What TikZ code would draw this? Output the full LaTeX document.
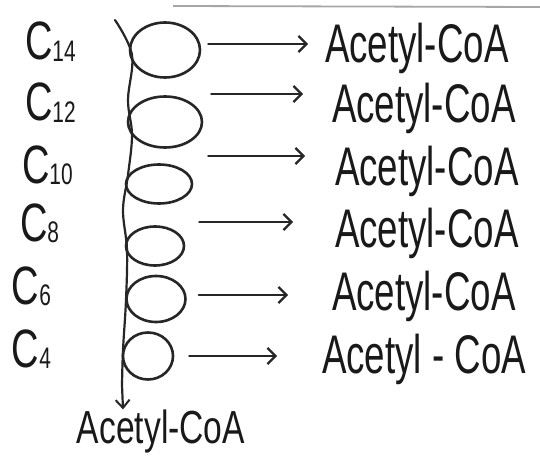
\documentclass[tikz,border=0pt]{standalone}
\usepackage{fontspec}
\setmainfont{Liberation Sans}
\usetikzlibrary{arrows.meta,shapes.geometric}
\newcommand{\acl}[1]{\scalebox{1.08}[1.6]{\fontsize{34}{34}\selectfont #1}}
\newcommand{\clab}[1]{\scalebox{0.95}[1.35]{\fontsize{40}{40}\selectfont C\raisebox{-1pt}{\fontsize{22}{22}\selectfont #1}}}
\begin{document}
\begin{tikzpicture}[x=1pt,y=-1pt,
  ink/.style={draw=black!85, line width=2.4pt, line cap=round, line join=round},
  coil/.style={ellipse, draw=black!85, line width=2.6pt, inner sep=0pt},
  arr/.style={ink, -{Straight Barb[length=8pt,width=16pt,line width=2.2pt]}},
  txt/.style={inner sep=0pt, outer sep=0pt, text=black!90, anchor=base west}]
\useasboundingbox (0,0) rectangle (540,457);
% ruled line at top
\draw[black!35, line width=1.8pt] (173,6) -- (540,7);
% carbon labels
\node[txt] (c14) at (25,60) {\clab{14}};
\node[txt] (c12) at (25,121) {\clab{12}};
\node[txt] (c10) at (22,183) {\clab{10}};
\node[txt] (c8) at (20,241) {\clab{8}};
\node[txt] (c6) at (12,304) {\clab{6}};
\node[txt] (c4) at (12,367) {\clab{4}};
% coil loops
\node[coil, minimum width=70pt, minimum height=55pt] (l1) at (165,50) {};
\node[coil, minimum width=74pt, minimum height=51pt] (l2) at (165,122) {};
\node[coil, minimum width=66pt, minimum height=39pt] (l3) at (159,184) {};
\node[coil, minimum width=58pt, minimum height=39pt] (l4) at (155,246) {};
\node[coil, minimum width=59pt, minimum height=46pt] (l5) at (156,299) {};
\node[coil, minimum width=50pt, minimum height=47pt] (l6) at (148,356) {};
% product labels
\node[txt] (a1) at (325,63) {\acl{Acetyl-CoA}};
\node[txt] (a2) at (332,123) {\acl{Acetyl-CoA}};
\node[txt] (a3) at (335,185) {\acl{Acetyl-CoA}};
\node[txt] (a4) at (335,247) {\acl{Acetyl-CoA}};
\node[txt] (a5) at (332,310) {\acl{Acetyl-CoA}};
\node[txt] (a6) at (322,373) {\acl{Acetyl - CoA}};
\node[txt, anchor=base] (ab) at (161,443) {\scalebox{1.05}[1.45]{\fontsize{32}{32}\selectfont Acetyl-CoA}};
% arrow start points
\coordinate (s1) at ([shift={(7,-6)}]l1.east);
\coordinate (s2) at ([shift={(8,-28)}]l2.east);
\coordinate (s3) at ([shift={(15,-28)}]l3.east);
\coordinate (s4) at ([shift={(14,-24)}]l4.east);
\coordinate (s5) at ([shift={(12,-4)}]l5.east);
\coordinate (s6) at ([shift={(15,0)}]l6.east);
\draw[arr, shorten >=17pt] (s1) -- (s1 -| a1.west);
\draw[arr, shorten >=29pt] (s2) -- (s2 -| a2.west);
\draw[arr, shorten >=30pt] (s3) -- (s3 -| a3.west);
\draw[arr, shorten >=42pt] (s4) -- (s4 -| a4.west);
\draw[arr, shorten >=44pt] (s5) -- (s5 -| a5.west);
\draw[arr, shorten >=45pt] (s6) -- (s6 -| a6.west);
% stem of the spiral
\coordinate (top) at (115,20);
\draw[ink, line width=2.2pt, -{Straight Barb[length=8pt,width=14pt,line width=2pt]}]
  plot[smooth, tension=0.6] coordinates {(top) (132,55) (128,100) (132,135) (128,175) (123,210) (127,250) (126,300) (123,350) (122,385)} -- (ab.north -| 123,0);
\end{tikzpicture}
\end{document}
